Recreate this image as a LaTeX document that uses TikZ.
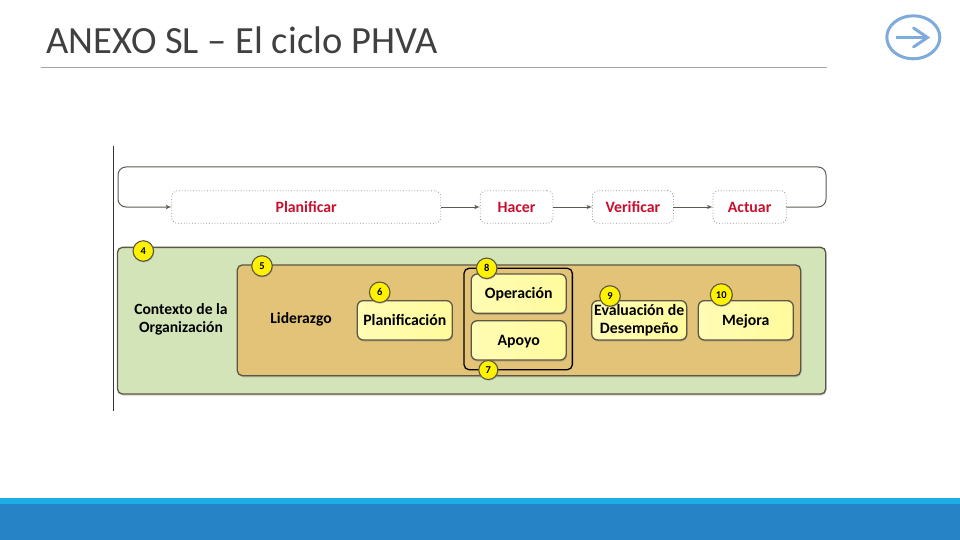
\documentclass[tikz,border=0pt]{standalone}
\usepackage{fontspec}
\setmainfont{Carlito}
\usetikzlibrary{shapes.geometric,arrows,positioning,shadows}

\definecolor{loopgray}{HTML}{5E5A52}
\definecolor{rulegray}{HTML}{A6A6A6}
\definecolor{titlegray}{HTML}{404040}
\definecolor{phaseRed}{HTML}{C8102E}
\definecolor{contextGreen}{HTML}{D3E5B8}
\definecolor{leadTan}{HTML}{E3C377}
\definecolor{edgeBrown}{HTML}{5C5646}
\definecolor{boxYellow}{HTML}{FFFB9C}
\definecolor{barLight}{HTML}{1CADE4}
\definecolor{barDark}{HTML}{2683C6}
\definecolor{navBlue}{HTML}{7FAADC}

\begin{document}
\begin{tikzpicture}[
        x=1pt, y=-1pt,
        node distance=39.5pt,
        phase/.style={
            rectangle,
            draw=gray!90,
            dotted,
            line width=0.8pt,
            fill=white,
            rounded corners=6pt,
            minimum height=32.6pt,
            inner sep=0pt,
            outer sep=0pt,
            text=phaseRed,
            font=\fontsize{15.8}{17}\selectfont\bfseries
        },
        panel/.style={
            rectangle,
            draw=edgeBrown,
            line width=1.3pt,
            rounded corners=5pt,
            inner sep=0pt,
            outer sep=0pt,
            drop shadow={shadow xshift=0.8pt, shadow yshift=-1.6pt, opacity=0.35}
        },
        clause/.style={
            panel,
            left color=boxYellow!75!white,
            right color=boxYellow,
            rounded corners=6pt,
            minimum width=95pt,
            minimum height=39.3pt,
            align=center,
            font=\fontsize{15.8}{17.6}\selectfont\bfseries
        },
        badge/.style={
            circle,
            draw=edgeBrown,
            line width=1.1pt,
            fill=yellow,
            inner sep=0pt,
            minimum size=20.5pt,
            font=\fontsize{10.5}{10.5}\selectfont\bfseries,
            drop shadow={shadow xshift=0.6pt, shadow yshift=-1.2pt, opacity=0.4}
        },
        label/.style={
            inner sep=0pt,
            align=center,
            font=\fontsize{15.6}{18}\selectfont\bfseries
        },
        line/.style={draw=loopgray, line width=1pt, -latex'}
    ]
        \useasboundingbox (0,0) rectangle (960,540);

        % -- Footer bars --
        \fill [barLight] (0,498) rectangle (960,504);
        \fill [barDark] (0,504) rectangle (960,540);

        % -- Title --
        \node [anchor=base west, inner sep=0pt, text=titlegray, font=\fontsize{38.5}{40}\selectfont] (title) at (46,54) {ANEXO SL – El ciclo PHVA};
        \coordinate (ruleleft) at (41,67);
        \coordinate (ruleright) at (827,67);
        \draw [rulegray, line width=0.8pt] (ruleleft) -- (ruleright);

        % -- Nav icon --
        \node [ellipse, draw=navBlue, line width=3pt, minimum width=53pt, minimum height=43pt, inner sep=0pt] (nav) at (913.3,37.3) {};
        \coordinate (navtail) at (896,37.5);
        \coordinate (navtip) at (927.5,37.5);
        \draw [navBlue, line width=3pt] (navtail) -- (navtip);
        \draw [navBlue, line width=3pt, line cap=round] (913.5,28) -- (navtip) -- (913.5,47);

        % -- Margin line --
        \coordinate (margintop) at (113.5,146);
        \coordinate (marginbottom) at (113.5,411);
        \draw [black!80, line width=0.9pt] (margintop) -- (marginbottom);

        % -- Phases --
        \node [phase, minimum width=269pt] (plan) at (306.2,207) {Planificar};
        \node [phase, minimum width=72.7pt, right=of plan] (do) {Hacer};
        \node [phase, minimum width=81pt, right=of do] (check) {Verificar};
        \node [phase, minimum width=73.4pt, right=of check] (act) {Actuar};

        % -- Context panels --
        \node [panel, fill=contextGreen, minimum width=708.2pt, minimum height=146.7pt] (context) at (471.6,320.7) {};
        \node [panel, fill=leadTan, minimum width=563.4pt, minimum height=110.7pt] (lead) at (519,320.3) {};
        \node [rectangle, draw=black, line width=1.3pt, rounded corners=5pt, minimum width=108.3pt, minimum height=101.4pt] (group) at (518.2,319) {};

        \node [label] (contextlabel) at (181,319.5) {Contexto de la\\Organización};
        \node [label] (leadlabel) at (301,319.5) {Liderazgo};

        % -- Clause boxes --
        \node [clause] (planning) at (404.8,320.3) {Planificación};
        \node [clause] (operation) at (518.7,293.7) {Operación};
        \node [clause, below=7.4pt of operation, text depth=0pt] (support) {Apoyo};
        \node [clause] (evaluation) at (639.2,320.3) {Evaluación de\\Desempeño};
        \node [clause, text depth=0pt] (improve) at (745.8,320.3) {Mejora};

        % -- Badges --
        \node [badge] (b4) at (143.3,251) {4};
        \node [badge] (b5) at (262,266) {5};
        \node [badge] (b6) at (379.7,292.3) {6};
        \node [badge] (b8) at (486.7,268.3) {8};
        \node [badge, minimum size=19pt] (b7) at (488.3,370) {7};
        \node [badge] (b9) at (610,296) {9};
        \node [badge, minimum size=22pt] (b10) at (721.3,294.7) {10};

        % -- Paths --
        \path [line] (plan) -- (do);
        \path [line] (do) -- (check);
        \path [line] (check) -- (act);

        \coordinate (loopne) at (826,167);
        \coordinate (loopnw) at (118,167);
        \draw [loopgray, line width=1pt, rounded corners=8pt, -latex'] (act.east) -| (loopne) -- (loopnw) |- (plan.west);
\end{tikzpicture}
\end{document}
